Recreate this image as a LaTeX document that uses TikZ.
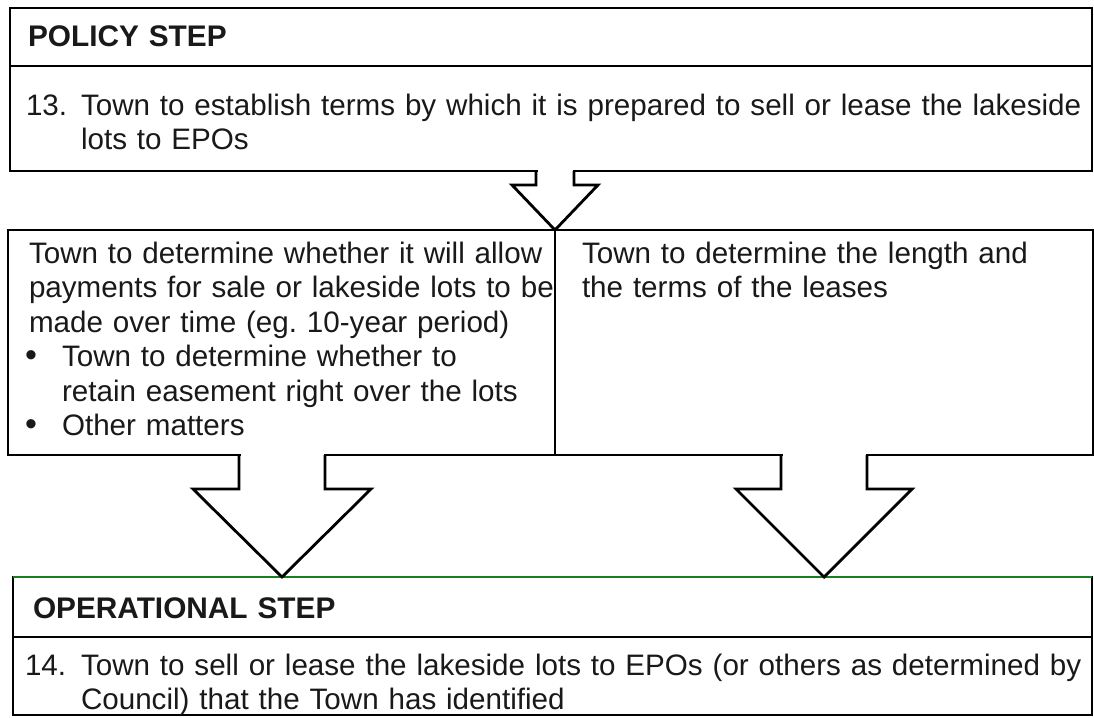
\documentclass[tikz,border=0pt]{standalone}
\usepackage{fontspec}
\setmainfont{Liberation Sans}
\usetikzlibrary{calc}
\frenchspacing
\definecolor{opgreen}{RGB}{25,125,35}
\definecolor{ink}{RGB}{25,25,25}
\newcommand\blockarrow[5]{%
  \fill[white] ($(#1)+(-#2+1.5,#5-2.5)$) rectangle ($(#1)+(#2-1.5,#4)$);
  \draw[arrowline] ($(#1)+(-#2,#5)$) -- ($(#1)+(-#2,#4)$) -- ($(#1)+(-#3,#4)$) -- (#1)
     -- ($(#1)+(#3,#4)$) -- ($(#1)+(#2,#4)$) -- ($(#1)+(#2,#5)$);}
\begin{document}
\begin{tikzpicture}[x=1pt,y=-1pt,
  box/.style={draw=black, line width=2.9pt, inner sep=0pt, outer sep=0pt, anchor=north west},
  divline/.style={draw=black, line width=2.9pt},
  arrowline/.style={draw=black, line width=2.8pt, line join=miter, miter limit=10},
  txt/.style={anchor=base west, inner sep=0pt, outer sep=0pt, text=ink,
    font=\fontsize{29.6}{34.5}\selectfont\frenchspacing, text width=1300pt, align=left},
  hdr/.style={txt, font=\fontsize{29.8}{34.5}\selectfont\bfseries},
  bul/.style={anchor=base west, inner sep=0pt, text=ink, font=\fontsize{34}{38}\selectfont}]
\useasboundingbox[fill=white] (0,0) rectangle (1094,717);

% boxes
\node[box, minimum width=1082pt, minimum height=163pt] (policy) at (10,8) {};
\node[box, minimum width=547pt, minimum height=225pt] (midL) at (8,230) {};
\node[box, minimum width=538pt, minimum height=225pt] (midR) at (555,230) {};
\node[box, minimum width=1079pt, minimum height=138pt] (oper) at (13,577) {};
\draw[divline] ($(policy.north west)+(0,58)$) -- ($(policy.north east)+(0,58)$);
\draw[divline] ($(oper.north west)+(0,60)$) -- ($(oper.north east)+(0,60)$);
\draw[line width=2.9pt, draw=opgreen] (oper.north west) -- (oper.north east);

% arrows
\coordinate (t1) at (midL.north east);
\coordinate (t2) at ($(oper.north west)+(269,0)$);
\coordinate (t3) at ($(oper.north west)+(811,0)$);
\blockarrow{t1}{19}{43}{-45}{-59}
\blockarrow{t2}{43}{89}{-88}{-122}
\blockarrow{t3}{43}{88}{-88}{-122}

% texts
\node[hdr] (ph) at (28,47) {POLICY STEP};
\node[txt] (pn) at (26,115) {13.};
\node[txt] (pt) at (81,115) {Town to establish terms by which it is prepared to sell or lease the lakeside\\lots to EPOs};

\node[txt] (lm) at (29,263) {Town to determine whether it will allow\\payments for sale or lakeside lots to be\\made over time (eg. 10-year period)};
\node[bul] (b1) at (25,366.5) {•};
\node[txt] (b1t) at (62,366.5) {Town to determine whether to\\retain easement right over the lots};
\node[bul] (b2) at (25,435.5) {•};
\node[txt] (b2t) at (62,435.5) {Other matters};

\node[txt] (rm) at (582,263) {Town to determine the length and\\the terms of the leases};

\node[hdr] (oh) at (33,618) {OPERATIONAL STEP};
\node[txt] (on) at (25,675) {14.};
\node[txt] (ot) at (81,675) {Town to sell or lease the lakeside lots to EPOs (or others as determined by\\Council) that the Town has identified};
\end{tikzpicture}
\end{document}
